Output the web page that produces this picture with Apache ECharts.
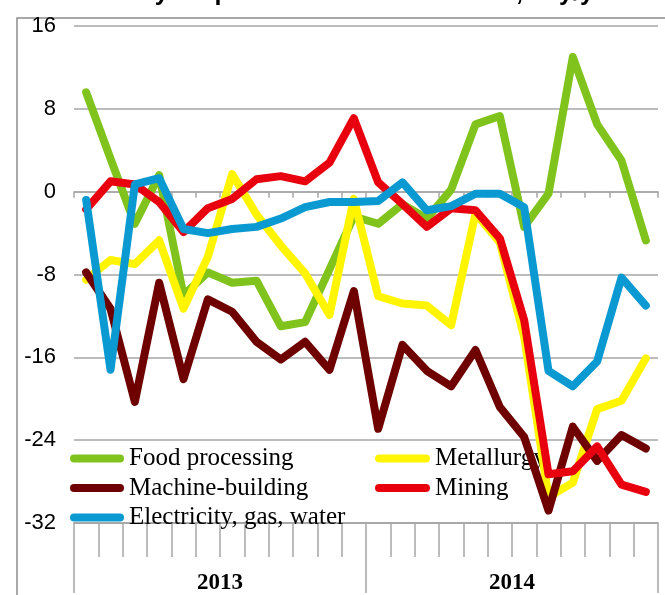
<!DOCTYPE html>
<html>
<head>
<meta charset="utf-8">
<script src="https://cdn.jsdelivr.net/npm/echarts@6/dist/echarts.min.js"></script>
<style>html,body{margin:0;padding:0;background:#fff;}#c{width:665px;height:595px;}</style>
</head>
<body>
<div id="c"></div>
<script>
var months = ['Jan-13','Feb-13','Mar-13','Apr-13','May-13','Jun-13','Jul-13','Aug-13','Sep-13','Oct-13','Nov-13','Dec-13',
              'Jan-14','Feb-14','Mar-14','Apr-14','May-14','Jun-14','Jul-14','Aug-14','Sep-14','Oct-14','Nov-14','Dec-14'];
var years = ['2013', '2014'];
var yTicks = { min: -32, max: 16, interval: 8 };

var foodProcessing = [9.6, 3.2, -3.1, 1.6, -10.0, -7.8, -8.8, -8.6, -13.0, -12.6, -7.5, -2.4,
                      -3.1, -1.2, -2.6, 0.2, 6.5, 7.3, -3.4, -0.2, 13.0, 6.5, 3.0, -4.7];
var metallurgy = [-8.5, -6.6, -7.0, -4.7, -11.3, -6.3, 1.7, -2.2, -5.2, -7.9, -11.9, -0.7,
                  -10.1, -10.8, -11.0, -12.9, -2.1, -4.9, -14.0, -29.5, -28.1, -21.0, -20.2, -16.1];
var machineBuilding = [-7.8, -11.3, -20.3, -8.8, -18.1, -10.4, -11.6, -14.5, -16.2, -14.5, -17.2, -9.6,
                       -22.9, -14.8, -17.3, -18.8, -15.3, -20.8, -23.7, -30.8, -22.7, -26.0, -23.5, -24.8];
var mining = [-1.7, 1.0, 0.7, -1.0, -3.9, -1.6, -0.7, 1.2, 1.5, 1.0, 2.8, 7.1,
              0.9, -1.2, -3.4, -1.6, -1.8, -4.5, -12.4, -27.3, -27.0, -24.6, -28.3, -29.0];
var electricity = [-0.8, -17.2, 0.7, 1.3, -3.6, -4.0, -3.6, -3.4, -2.6, -1.5, -1.0, -1.0,
                   -0.9, 0.9, -1.8, -1.4, -0.2, -0.2, -1.5, -17.3, -18.8, -16.4, -8.3, -11.0];

var seriesNames = ['Food processing', 'Metallurgy', 'Machine-building', 'Mining', 'Electricity, gas, water'];
var seriesData = [foodProcessing, metallurgy, machineBuilding, mining, electricity];
var seriesColors = ['#7FC31C', '#FFF500', '#6E0000', '#E8000F', '#0A99D0'];

var gridColor = '#A6A6A6';
var capsule = 'path://M4,0H50A4,4,0,0,1,50,8H4A4,4,0,0,1,4,0Z';

var chart = echarts.init(document.getElementById('c'), null, { renderer: 'canvas' });

var series = seriesNames.map(function (n, i) {
  return {
    name: n, type: 'line', xAxisIndex: 0, yAxisIndex: 0,
    data: seriesData[i], symbol: 'none', smooth: false,
    lineStyle: { color: seriesColors[i], width: 8, join: 'round', cap: 'round' },
    itemStyle: { color: seriesColors[i] },
    z: 3 + i, animation: false
  };
});

var legendText = { fontFamily: 'Liberation Serif', fontSize: 25, color: '#000', lineHeight: 25 };

chart.setOption({
  animation: false,
  backgroundColor: '#fff',
  grid: { left: 74, right: 7, top: 26, bottom: 66 },
  graphic: [
    { type: 'rect', shape: { x: 17, y: 18, width: 720, height: 700 }, style: { fill: 'none', stroke: '#8C8C8C', lineWidth: 1.5 }, z: 0 },
    { type: 'text', x: 332, y: -19, style: { text: 'Industry output in selected industries, % y/y', font: 'bold 25px "Liberation Sans"', fill: '#000', textAlign: 'center' } }
  ],
  legend: [
    { data: [seriesNames[0], seriesNames[2], seriesNames[4]], orient: 'vertical', left: 70, top: 446, itemWidth: 54, itemHeight: 9, itemGap: 4.5, icon: capsule, textStyle: legendText, padding: 0 },
    { data: [seriesNames[1], seriesNames[3]], orient: 'vertical', left: 375, top: 446, itemWidth: 55, itemHeight: 9, itemGap: 4.5, icon: capsule, textStyle: legendText, padding: 0 }
  ],
  xAxis: [
    { type: 'category', data: months, boundaryGap: true,
      axisLine: { onZero: true, lineStyle: { color: gridColor, width: 1.5 } },
      axisTick: { show: true, interval: 0, length: 6, lineStyle: { color: gridColor, width: 1.5 } },
      axisLabel: { show: false, interval: 0 }, splitLine: { show: false } },
    { type: 'category', data: months, boundaryGap: true, position: 'bottom',
      axisLine: { onZero: false, lineStyle: { color: gridColor, width: 1.5 } },
      axisTick: { show: true, interval: 0, length: 34, lineStyle: { color: gridColor, width: 1.5 } },
      axisLabel: { show: false, interval: 0 }, splitLine: { show: false } },
    { type: 'category', data: years, boundaryGap: true, position: 'bottom',
      axisLine: { onZero: false, lineStyle: { color: gridColor, width: 1.5 } },
      axisTick: { show: true, interval: 0, length: 70, lineStyle: { color: gridColor, width: 1.5 } },
      axisLabel: { show: true, interval: 0, margin: 49, fontFamily: 'Liberation Serif', fontWeight: 'bold', fontSize: 23, color: '#000' },
      splitLine: { show: false } }
  ],
  yAxis: {
    type: 'value', min: yTicks.min, max: yTicks.max, interval: yTicks.interval,
    axisLine: { show: false }, axisTick: { show: false },
    axisLabel: { margin: 18, fontFamily: 'Liberation Sans', fontSize: 22, color: '#000' },
    splitLine: { show: true, lineStyle: { color: gridColor, width: 1.5 } }
  },
  series: series
});
</script>
</body>
</html>
